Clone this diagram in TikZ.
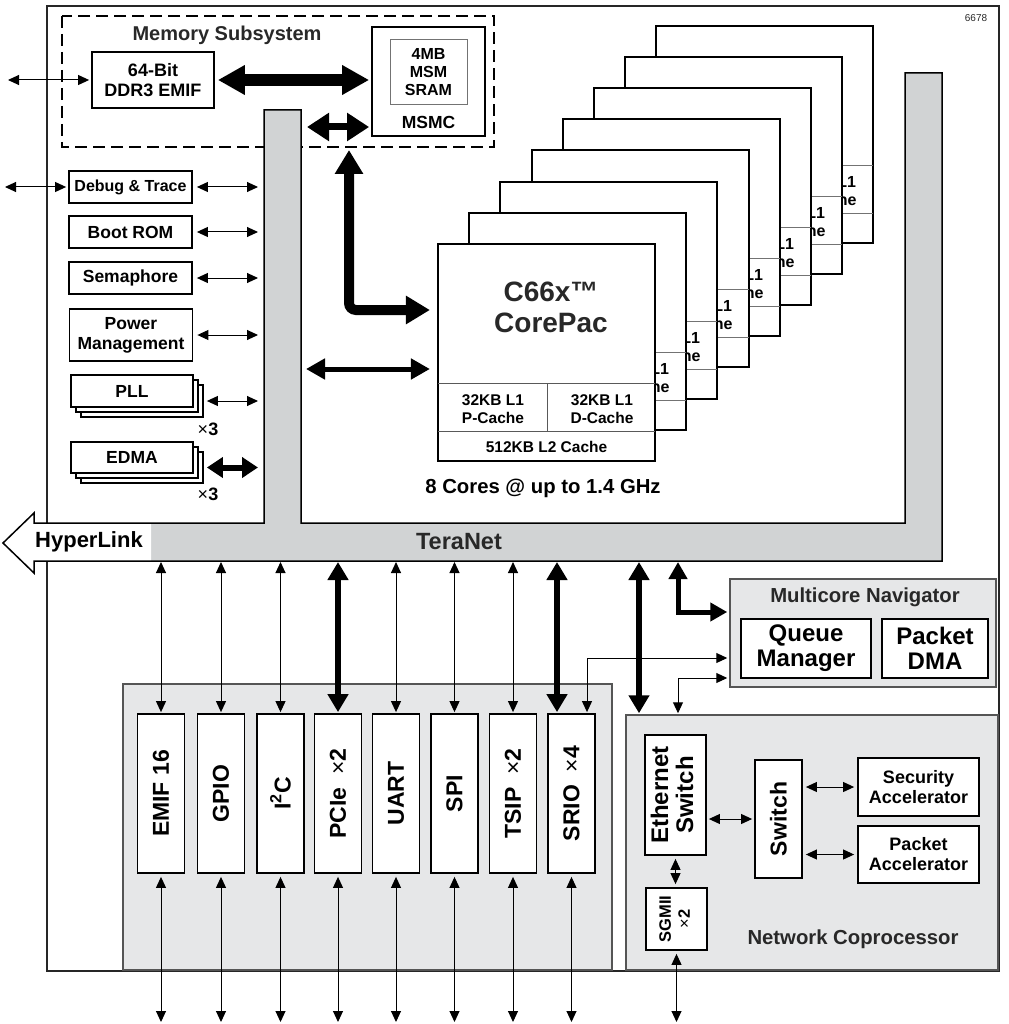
\documentclass[tikz,border=0pt]{standalone}
\usepackage{fontspec}
\setmainfont{Liberation Sans}
\usepackage{graphicx}
\usetikzlibrary{arrows.meta}
\definecolor{tgray}{RGB}{209,211,212}
\definecolor{lgray}{RGB}{230,231,232}
\definecolor{bgray}{RGB}{85,85,85}
\definecolor{tx}{RGB}{40,40,40}
\newcommand\fz[2]{\fontsize{#1pt}{#2pt}\selectfont\bfseries}
\newcommand\rtwo[2]{\rotatebox{90}{\begin{tabular}{@{}c@{}}#1\\#2\end{tabular}}}
\begin{document}
\begin{tikzpicture}[x=1pt,y=-1pt,
  box/.style={draw=black, line width=1.8pt, fill=white, inner sep=0pt, align=center},
  lbox/.style={box, minimum width=123pt, minimum height=32pt, font=\fz{17.5}{20}},
  pbox/.style={box, minimum width=47pt, minimum height=159pt, font=\fz{23}{25}},
  tarr/.style={line width=1pt, {Triangle[length=11pt,width=10pt]}-{Triangle[length=11pt,width=10pt]}},
  karr/.style={line width=6pt, {Triangle[length=18pt,width=20pt]}-{Triangle[length=18pt,width=20pt]}},
]
\useasboundingbox (0,0) rectangle (1008,1024);
% outer frame
\draw[line width=1.5pt, draw=black!85] (47,6) rectangle (999,971);
\node[font=\fontsize{10}{12}\selectfont, text=tx] (id) at (976,18) {6678};
% memory subsystem
\draw[line width=1.4pt, dash pattern=on 12pt off 6pt] (62,16) rectangle (494,147);
\node[font=\fz{20}{22}, text=tx] (memlbl) at (227,35) {Memory Subsystem};
% TeraNet
\fill[tgray] (264,110) -- (301,110) -- (301,523) -- (905,523) -- (905,73) -- (942,73) -- (942,561) -- (151,561) -- (151,523) -- (264,523) -- cycle;
\fill[white] (3,543) -- (34,513) -- (34,523) -- (151,523) -- (151,561) -- (34,561) -- (34,573) -- cycle;
\draw[line width=1.5pt, line join=miter] (3,543) -- (34,513) -- (34,523) -- (264,523) -- (264,110) -- (301,110) -- (301,523) -- (905,523) -- (905,73) -- (942,73) -- (942,561) -- (34,561) -- (34,573) -- cycle;
\node[font=\fz{23.5}{26}, text=tx] (teranet) at (459,542) {TeraNet};
\node[font=\fz{22}{24}] (hyper) at (89,542) {HyperLink};
% memory boxes
\node[box, minimum width=122pt, minimum height=56pt, font=\fz{18}{20}] (ddr) at (153,80) {64-Bit\\DDR3 EMIF};
\node[box, minimum width=113pt, minimum height=109pt] (msmc) at (428.5,81.5) {};
\node[draw=black!55, line width=1pt, fill=white, minimum width=77pt, minimum height=65pt, inner sep=0pt, align=center, font=\fz{16}{18}] (sram) at (428.5,72.5) {4MB\\MSM\\SRAM};
\node[font=\fz{17.5}{20}] (msmclbl) at (428.5,122) {MSMC};
% left column
\node[lbox, font=\fz{16}{18}] (dt) at (130.5,187) {Debug \& Trace};
\node[lbox] (boot) at (130.5,232) {Boot ROM};
\node[lbox] (sem) at (130.5,278) {Semaphore};
\node[lbox, minimum height=52pt] (pm) at (131,335) {Power\\Management};
\node[box, minimum width=122pt, minimum height=32pt] (pll3) at (142,401) {};
\node[box, minimum width=122pt, minimum height=32pt] (pll2) at (137,396) {};
\node[lbox, minimum width=122pt] (pll) at (132,391) {PLL};
\node[font=\fz{18}{20}] (pllx) at (208,429) {{\mdseries ×}3};
\node[box, minimum width=122pt, minimum height=31pt] (edma3) at (142,467.5) {};
\node[box, minimum width=122pt, minimum height=31pt] (edma2) at (137,462.5) {};
\node[lbox, minimum width=122pt, minimum height=31pt] (edma) at (132,457.5) {EDMA};
\node[font=\fz{18}{20}] (edmax) at (208,494) {{\mdseries ×}3};
% cores (back to front)
\foreach \k in {7,6,...,1} {
  \pgfmathsetmacro\cx{round(438+31.2*\k)}
  \pgfmathsetmacro\cy{round(244-31.2*\k)}
  \begin{scope}[shift={(\cx,\cy)}]
    \draw[line width=2.2pt, fill=white] (0,0) rectangle (217,217);
    \draw[line width=0.9pt, draw=black!55] (0,139) -- (217,139) (0,187) -- (217,187) (109,139) -- (109,187);
    \node[font=\fz{16}{18}, align=center] (dc\k) at (168,165) {32KB L1\\D-Cache};
  \end{scope}
}
\node[box, line width=2.2pt, minimum width=217pt, minimum height=217pt] (core) at (546.5,352.5) {};
\draw[line width=0.9pt, draw=black!65] (438,383) -- (655,383) (438,431) -- (655,431) (547,383) -- (547,431);
\node[font=\fz{28}{31}, text=tx, align=center] (c66) at (551,307) {C66x™\\CorePac};
\node[font=\fz{15.5}{18}, align=center] (pc) at (493,409) {32KB L1\\P-Cache};
\node[font=\fz{15.5}{18}, align=center] (dc) at (602,409) {32KB L1\\D-Cache};
\node[font=\fz{15.5}{18}] (l2) at (546.5,447) {512KB L2 Cache};
\node[font=\fz{20.3}{22}] (cores) at (543,488) {8 Cores @ up to 1.4 GHz};
% peripherals
\node[draw=bgray, line width=1.3pt, fill=lgray, minimum width=489pt, minimum height=286pt, inner sep=0pt] (perbox) at (367.5,827) {};
\node[pbox] (emif) at (161,793.5) {\rotatebox{90}{EMIF 16}};
\node[pbox] (gpio) at (221,793.5) {\rotatebox{90}{GPIO}};
\node[pbox] (i2c) at (280.5,793.5) {\rotatebox{90}{I\textsuperscript{2}C}};
\node[pbox] (pcie) at (338,793.5) {\rotatebox{90}{PCIe \ {\mdseries ×}2}};
\node[pbox] (uart) at (396,793.5) {\rotatebox{90}{UART}};
\node[pbox] (spi) at (454.5,793.5) {\rotatebox{90}{SPI}};
\node[pbox] (tsip) at (513,793.5) {\rotatebox{90}{TSIP \ {\mdseries ×}2}};
\node[pbox] (srio) at (571.5,793.5) {\rotatebox{90}{SRIO \ {\mdseries ×}4}};
% multicore navigator
\node[draw=bgray, line width=1.5pt, fill=lgray, minimum width=266pt, minimum height=108pt, inner sep=0pt] (mn) at (863,633) {};
\node[font=\fz{20.3}{22}, text=tx] (mnl) at (865,597) {Multicore Navigator};
\node[box, minimum width=130pt, minimum height=59pt, font=\fz{24}{25}] (qm) at (806,648.5) {Queue\\Manager};
\node[box, minimum width=106pt, minimum height=59pt, font=\fz{24}{25}] (pdma) at (935,648.5) {Packet\\DMA};
% network coprocessor
\node[draw=bgray, line width=1.5pt, fill=lgray, minimum width=372pt, minimum height=255pt, inner sep=0pt] (nc) at (812,842.5) {};
\node[box, minimum width=61pt, minimum height=120pt, font=\fz{24}{25}] (eth) at (675.5,795) {\rtwo{Ethernet}{Switch}};
\node[box, minimum width=61pt, minimum height=62pt, font=\fz{16.5}{19}] (sgmii) at (676.5,919) {\rtwo{SGMII}{{\mdseries ×}2}};
\node[box, minimum width=47pt, minimum height=118pt, font=\fz{23}{25}] (sw) at (778.5,819) {\rotatebox{90}{Switch}};
\node[box, minimum width=121pt, minimum height=58pt, font=\fz{18}{20}] (sec) at (918.5,787) {Security\\Accelerator};
\node[box, minimum width=121pt, minimum height=57pt, font=\fz{18}{20}] (pa) at (918.5,854.5) {Packet\\Accelerator};
\node[font=\fz{20.3}{22}, text=tx] (ncl) at (853,939) {Network Coprocessor};
% coordinates
\coordinate (barL) at (258,0);
\coordinate (tnb) at (0,562);
\coordinate (bot) at (0,1022);
\coordinate (ddrL) at (8,80);
\coordinate (dtL) at (5,187);
\coordinate (msl) at (307,127);
\coordinate (mst) at (349,150);
\coordinate (lcorner) at (349,310);
\coordinate (cl) at (306,369);
\coordinate (mnc) at (678,612);
\coordinate (sc) at (587,658);
\coordinate (nc2) at (678,678);
\coordinate (nck) at (639,0);
% memory arrows
\draw[tarr, shorten >=2pt] (ddrL) -- (ddr.west);
\draw[line width=12pt, {Triangle[length=27pt,width=28pt]}-{Triangle[length=27pt,width=28pt]}] ([xshift=3pt]ddr.east) -- ([xshift=-2pt]ddr.east -| msmc.west);
\draw[line width=7pt, {Triangle[length=22pt,width=27pt]}-{Triangle[length=22pt,width=27pt]}, shorten >=2pt] (msl) -- (msl -| msmc.west);
\draw[line width=10pt, rounded corners=7pt, {Triangle[length=24pt,width=27pt]}-{Triangle[length=24pt,width=27pt]}] (mst) -- (lcorner) -- ([xshift=-7pt]core.west |- lcorner);
\draw[line width=5pt, {Triangle[length=19pt,width=20pt]}-{Triangle[length=19pt,width=20pt]}] (cl) -- ([xshift=-7pt]core.west |- cl);
% left column arrows
\draw[tarr, shorten >=2pt] (dtL) -- (dt.west);
\foreach \n in {dt,boot,sem,pm} { \draw[tarr, shorten <=4pt] (\n.east) -- (\n.east -| barL); }
\draw[tarr, shorten <=3pt] (pll3.east) -- (pll3.east -| barL);
\draw[line width=6pt, {Triangle[length=16pt,width=20pt]}-{Triangle[length=16pt,width=20pt]}, shorten <=3pt] (edma3.east) -- (edma3.east -| barL);
% peripheral arrows
\foreach \n in {emif,gpio,i2c,uart,spi,tsip} { \draw[tarr, shorten >=1pt] (\n.north |- tnb) -- (\n.north); }
\draw[karr, shorten >=1pt] (pcie.north |- tnb) -- (pcie.north);
\draw[karr, shorten >=1pt] ([xshift=-14.5pt]srio.north |- tnb) -- ([xshift=-14.5pt]srio.north);
\foreach \n in {emif,gpio,i2c,pcie,uart,spi,tsip,srio} { \draw[tarr, shorten <=3pt] (\n.south) -- (\n.south |- bot); }
% navigator / coprocessor arrows
\draw[line width=5pt, {Triangle[length=17pt,width=18pt]}-{Triangle[length=17pt,width=18pt]}] (mnc |- tnb) -- (mnc) -- ([xshift=-2pt]mn.west |- mnc);
\draw[tarr, shorten <=1pt] (sc |- srio.north) -- (sc) -- ([xshift=-2pt]mn.west |- sc);
\draw[tarr, shorten >=1pt] ([xshift=-2pt]mn.west |- nc2) -- (nc2) -- (nc2 |- nc.north);
\draw[karr, shorten >=1pt] (nck |- tnb) -- (nck |- nc.north);
\draw[tarr, shorten <=2pt, shorten >=2pt] (eth.east |- sw.west) -- (sw.west);
\draw[tarr, shorten <=3pt, shorten >=3pt] (sw.east |- sec.west) -- (sec.west);
\draw[tarr, shorten <=3pt, shorten >=3pt] (sw.east |- pa.west) -- (pa.west);
\draw[tarr, shorten <=3pt, shorten >=3pt] (eth.south) -- (eth.south |- sgmii.north);
\draw[tarr, shorten <=3pt] (sgmii.south) -- (sgmii.south |- bot);
\end{tikzpicture}
\end{document}
